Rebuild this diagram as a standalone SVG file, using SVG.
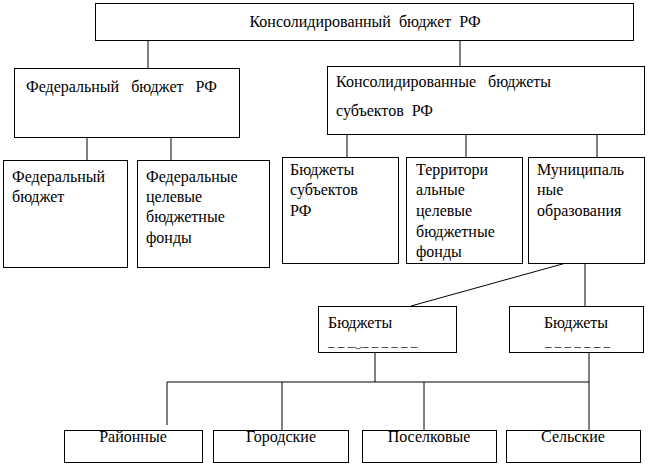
<svg xmlns="http://www.w3.org/2000/svg" width="648" height="465" viewBox="0 0 648 465">
<style>
rect{fill:#fff;stroke:#000;stroke-width:1}
line{stroke:#000;stroke-width:1}
text{font-family:'Liberation Serif','Times New Roman',serif;font-size:16px;fill:#000}
.c{text-anchor:middle}
.d{font-size:13px}
</style>
<rect x="0" y="0" width="648" height="465" style="stroke:none"/>
<g id="connectors">
<line x1="148" y1="40" x2="148" y2="68"/>
<line x1="460" y1="40" x2="460" y2="66"/>
<line x1="87" y1="137" x2="87" y2="160"/>
<line x1="171" y1="137" x2="171" y2="160"/>
<line x1="347" y1="134" x2="347" y2="157"/>
<line x1="466" y1="134" x2="466" y2="157"/>
<line x1="597" y1="134" x2="597" y2="157"/>
<line x1="566" y1="263" x2="411" y2="306"/>
<line x1="585" y1="263" x2="585" y2="306"/>
<line x1="375" y1="352" x2="375" y2="382"/>
<line x1="589" y1="352" x2="589" y2="430"/>
<line x1="167" y1="382" x2="589" y2="382"/>
<line x1="167" y1="382" x2="167" y2="425"/>
<line x1="282" y1="382" x2="282" y2="430"/>
<line x1="424" y1="382" x2="424" y2="430"/>
</g>
<g id="n-konsolid">
<rect x="95.5" y="3.5" width="538" height="37"/>
<text x="365" y="27" class="c" xml:space="preserve">Консолидированный  бюджет  РФ</text>
</g>
<g id="n-fed">
<rect x="14.5" y="68.5" width="225" height="69"/>
<text x="26" y="92" xml:space="preserve">Федеральный   бюджет   РФ</text>
</g>
<g id="n-subj">
<rect x="327.5" y="66.5" width="317" height="68"/>
<text x="336" y="87" xml:space="preserve">Консолидированные   бюджеты</text>
<text x="336" y="116" xml:space="preserve">субъектов  РФ</text>
</g>
<g id="n-fedb">
<rect x="3.5" y="160.5" width="124" height="107"/>
<text x="12" y="182">Федеральный</text>
<text x="12" y="202">бюджет</text>
</g>
<g id="n-fedf">
<rect x="137.5" y="160.5" width="132" height="107"/>
<text x="146" y="182">Федеральные</text>
<text x="146" y="202">целевые</text>
<text x="146" y="222">бюджетные</text>
<text x="146" y="243">фонды</text>
</g>
<g id="n-bsub">
<rect x="282.5" y="157.5" width="116" height="106"/>
<text x="290" y="175">Бюджеты</text>
<text x="290" y="195">субъектов</text>
<text x="290" y="216">РФ</text>
</g>
<g id="n-terr">
<rect x="406.5" y="157.5" width="116" height="106"/>
<text x="416" y="175">Территори</text>
<text x="416" y="195">альные</text>
<text x="416" y="216">целевые</text>
<text x="416" y="237">бюджетные</text>
<text x="416" y="257">фонды</text>
</g>
<g id="n-mun">
<rect x="528.5" y="157.5" width="116" height="106"/>
<text x="537" y="175">Муниципаль</text>
<text x="537" y="195">ные</text>
<text x="537" y="216">образования</text>
</g>
<g id="n-b1">
<rect x="318.5" y="306.5" width="138" height="46"/>
<text x="328" y="328">Бюджеты</text>
<text x="328" y="346" class="d" xml:space="preserve">_ _ _‿_ _ _ _ _ _</text>
</g>
<g id="n-b2">
<rect x="509.5" y="306.5" width="134" height="46"/>
<text x="576" y="328" class="c">Бюджеты</text>
<text x="545" y="346" class="d" xml:space="preserve">_ _ _ _ _ _ _</text>
</g>
<g id="n-raion">
<rect x="64.5" y="430.5" width="138" height="32"/>
<text x="133" y="442" class="c">Районные</text>
</g>
<g id="n-gorod">
<rect x="213.5" y="430.5" width="135" height="32"/>
<text x="281" y="442" class="c">Городские</text>
</g>
<g id="n-posel">
<rect x="362.5" y="430.5" width="134" height="32"/>
<text x="429" y="442" class="c">Поселковые</text>
</g>
<g id="n-selsk">
<rect x="506.5" y="430.5" width="134" height="32"/>
<text x="573" y="442" class="c">Сельские</text>
</g>
</svg>
